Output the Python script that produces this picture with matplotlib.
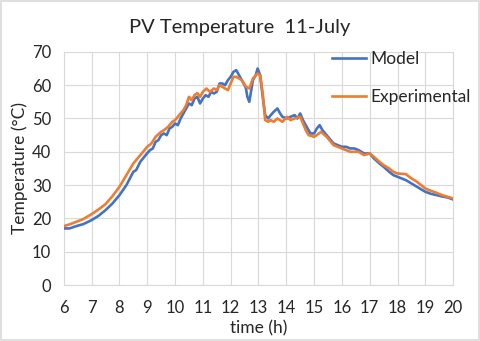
import matplotlib
matplotlib.use("Agg")
import matplotlib.pyplot as plt
from matplotlib.patches import Rectangle

plt.rcParams['font.family'] = ['Lato', 'DejaVu Sans']

model_t = [6.0, 6.2, 6.45, 6.7, 7.0, 7.25, 7.5, 7.75, 8.0, 8.25, 8.5, 8.6, 8.75, 9.0, 9.1, 9.2, 9.3, 9.4,
           9.5, 9.6, 9.7, 9.8, 9.9, 10.0, 10.1, 10.2, 10.3, 10.4, 10.5, 10.6, 10.7, 10.8, 10.9, 11.0, 11.1,
           11.2, 11.3, 11.4, 11.5, 11.6, 11.7, 11.8, 11.9, 12.0, 12.1, 12.2, 12.3, 12.4, 12.5, 12.55, 12.6,
           12.67, 12.72, 12.8, 12.9, 12.97, 13.06, 13.16, 13.24, 13.35, 13.44, 13.55, 13.68, 13.78, 13.86,
           14.03, 14.15, 14.3, 14.4, 14.5, 14.6, 14.7, 14.8, 14.87, 15.0, 15.1, 15.2, 15.3, 15.45, 15.6, 15.7,
           15.85, 16.0, 16.15, 16.3, 16.45, 16.6, 16.8, 17.0, 17.15, 17.35, 17.5, 17.7, 17.85, 18.0, 18.3,
           18.5, 18.7, 19.0, 19.2, 19.4, 19.6, 19.8, 20.0]
model_T = [17.0, 17.0, 17.7, 18.3, 19.5, 20.8, 22.5, 24.5, 27.0, 30.0, 34.0, 34.5, 37.0, 39.6, 40.5, 41.0, 43.0, 43.5,
           45.0, 45.5, 45.0, 47.0, 47.5, 48.5, 48.0, 50.0, 51.5, 53.0, 54.5, 54.0, 56.0, 56.5, 54.5, 56.0, 57.0,
           56.5, 58.0, 57.5, 58.0, 60.5, 60.5, 60.0, 61.5, 62.5, 64.0, 64.5, 63.0, 61.5, 60.0, 59.0, 56.5,
           55.0, 57.5, 61.5, 63.0, 65.0, 63.0, 56.0, 51.0, 50.0, 51.0, 52.0, 53.0, 51.5, 50.5,
           50.0, 50.5, 51.0, 50.0, 51.5, 49.5, 48.0, 46.5, 45.5, 45.5, 47.0, 48.0, 46.5, 45.0, 43.5, 42.5,
           42.0, 41.5, 41.5, 41.0, 41.0, 40.5, 39.5, 39.5, 38.0, 36.5, 35.5, 34.0, 33.0, 32.5, 31.5,
           30.5, 29.5, 28.0, 27.4, 27.0, 26.6, 26.3, 25.7]

exp_t = [6.0, 6.2, 6.45, 6.7, 7.0, 7.25, 7.5, 7.75, 8.0, 8.25, 8.5, 8.75, 9.0, 9.15, 9.3, 9.5, 9.6, 9.75, 9.9,
         10.0, 10.15, 10.3, 10.4, 10.5, 10.6, 10.7, 10.8, 10.9, 11.0, 11.13, 11.25, 11.4, 11.5, 11.6, 11.7,
         11.8, 11.9, 12.0, 12.1, 12.2, 12.3, 12.4, 12.55, 12.67, 12.8, 12.97, 13.06, 13.16, 13.24, 13.35,
         13.44, 13.55, 13.68, 13.86, 14.03, 14.15, 14.3, 14.5, 14.6, 14.7, 14.8, 15.0, 15.1, 15.25, 15.45,
         15.6, 15.7, 15.85, 16.0, 16.15, 16.3, 16.6, 16.8, 17.0, 17.15, 17.35, 17.5, 17.7, 17.85, 18.0, 18.3,
         18.5, 18.7, 19.0, 19.2, 19.4, 19.6, 19.8, 20.0]
exp_T = [17.7, 18.2, 19.0, 19.8, 21.3, 22.7, 24.3, 26.7, 29.5, 33.0, 36.5, 39.0, 41.5, 42.5, 44.5, 46.0, 46.5, 47.5, 49.0,
         49.5, 51.0, 52.5, 54.0, 56.5, 55.5, 57.0, 57.6, 56.5, 58.0, 59.0, 58.0, 59.0, 58.5, 60.0, 59.5,
         59.0, 58.5, 60.5, 62.5, 62.5, 62.0, 61.5, 59.5, 59.0, 62.0, 63.5, 63.0, 57.0, 49.5, 49.0,
         49.5, 49.0, 50.0, 49.0, 50.5, 49.5, 50.0, 50.5, 48.5, 46.5, 45.0, 44.5, 45.0, 46.0, 44.5,
         43.0, 42.0, 41.5, 41.0, 40.5, 40.0, 40.0, 39.0, 39.5, 38.5, 37.0, 36.0, 35.0, 34.0, 33.5, 33.3,
         32.0, 31.0, 29.0, 28.3, 27.7, 27.0, 26.5, 26.0]

x_ticks = list(range(6, 21))
y_ticks = list(range(0, 71, 10))

text_color = '#262626'
grid_color = '#D9D9D9'

fig = plt.figure(figsize=(4.8, 3.41), dpi=100)
ax = fig.add_axes([0.133, 0.164, 0.811, 0.684])

ax.plot(model_t, model_T, color='#4472C4', lw=1.9, label='Model', zorder=3)
ax.plot(exp_t, exp_T, color='#ED7D31', lw=1.9, label='Experimental', zorder=3)

ax.set_xlim(6, 20)
ax.set_ylim(0, 70)
ax.set_xticks(x_ticks)
ax.set_yticks(y_ticks)
ax.grid(True, color=grid_color, lw=0.8)
ax.set_axisbelow(True)
for s in ax.spines.values():
    s.set_color(grid_color)
    s.set_linewidth(0.8)
ax.tick_params(axis='y', length=0, labelsize=12, colors=text_color, pad=9)
ax.tick_params(axis='x', length=0, labelsize=12, colors=text_color, pad=11)

ax.set_xlabel('time (h)', fontsize=12.5, color=text_color, labelpad=3)
ax.set_ylabel('Temperature (°C)', fontsize=12.5, color=text_color, labelpad=3)
fig.text(0.5, 0.918, 'PV Temperature  11-July', ha='center', va='center', fontsize=14.5, color=text_color)

leg = ax.legend(loc='upper left', bbox_to_anchor=(0.67, 1.035), frameon=False, fontsize=12.5,
                labelspacing=1.3, handlelength=2.0, handletextpad=0.25, borderaxespad=0)
for t in leg.get_texts():
    t.set_color(text_color)

fig.patches.append(Rectangle((0.002, 0.003), 0.996, 0.994, transform=fig.transFigure,
                             fill=False, edgecolor=grid_color, lw=1.2))

fig.savefig('out.png', dpi=100)
